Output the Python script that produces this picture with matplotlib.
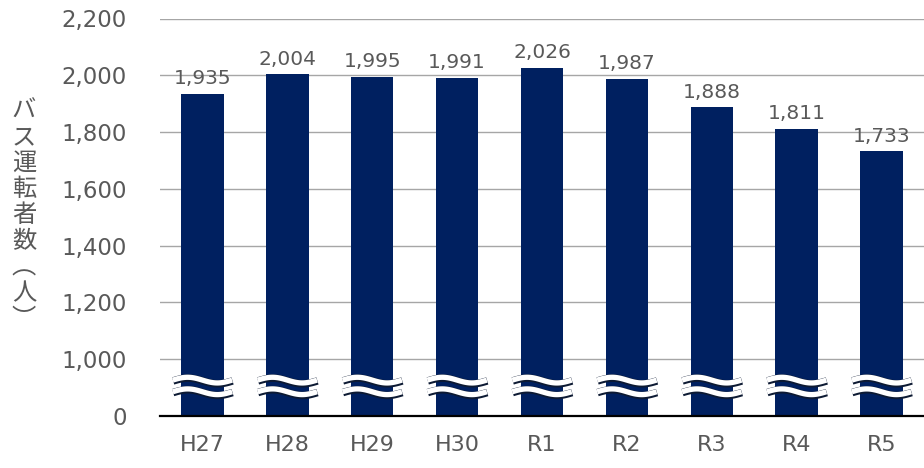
import numpy as np
import matplotlib
matplotlib.use("Agg")
import matplotlib.pyplot as plt
import matplotlib.patheffects as pe

# data
years = ["H27", "H28", "H29", "H30", "R1", "R2", "R3", "R4", "R5"]
drivers = [1935, 2004, 1995, 1991, 2026, 1987, 1888, 1811, 1733]
yticks = [0, 1000, 1200, 1400, 1600, 1800, 2000, 2200]
ylabel_chars = ["バ", "ス", "運", "転", "者", "数", "︵", "人", "︶"]

BAR_COLOR = "#002060"
TEXT_COLOR = "#595959"


# broken axis: 0-1000 squeezed into one step, then 200 per step
def fwd(v):
    v = np.asarray(v, dtype=float)
    return np.where(v <= 1000, v / 1000.0, 1 + (v - 1000) / 200.0)


def inv(t):
    t = np.asarray(t, dtype=float)
    return np.where(t <= 1, t * 1000.0, 1000 + (t - 1) * 200.0)


fig = plt.figure(figsize=(9.24, 4.68), dpi=100)
ax = fig.add_axes([160 / 924, 1 - 416 / 468, 764 / 924, (416 - 18.5) / 468])
ax.set_yscale("function", functions=(fwd, inv))

x = np.arange(len(years))
bars = ax.bar(x, drivers, width=0.5, color=BAR_COLOR, zorder=2)
ax.bar_label(bars, labels=[f"{v:,}" for v in drivers], padding=4,
             fontsize=14.5, color=TEXT_COLOR, zorder=3)

ax.set_xlim(-0.5, len(years) - 0.5)
ax.set_ylim(0, 2200)
ax.set_yticks(yticks)
ax.set_yticklabels([f"{v:,}" for v in yticks])
ax.set_xticks(x)
ax.set_xticklabels(years)
ax.tick_params(axis="y", length=0, pad=24, labelsize=16.5, labelcolor=TEXT_COLOR)
ax.tick_params(axis="x", length=0, pad=14, labelsize=16, labelcolor=TEXT_COLOR)
ax.yaxis.grid(True, color="#a6a6a6", linewidth=1.0, zorder=0)
ax.set_axisbelow(True)
for side in ["left", "right", "top"]:
    ax.spines[side].set_visible(False)
ax.spines["bottom"].set_color("black")
ax.spines["bottom"].set_linewidth(1.6)
ax.spines["bottom"].set_zorder(5)

# wavy break marks on each bar
t = np.linspace(0, 1, 60)
for xi in x:
    for centre in (632, 427):
        ax.plot(xi - 0.35 + 0.7 * t, centre + 50 * np.sin(2 * np.pi * t),
                color="white", linewidth=3.8, solid_capstyle="butt", zorder=4,
                path_effects=[pe.Stroke(linewidth=5.4, foreground="#0d1a33",
                                        offset=(0.3, -0.6)),
                              pe.Normal()])

# vertical y label, one character per line
for i, ch in enumerate(ylabel_chars):
    fig.text(24 / 924, 1 - (111 + i * 26) / 468, ch, ha="center", va="center",
             fontsize=17.5, color=TEXT_COLOR,
             family=["Noto Sans CJK JP", "DejaVu Sans"])

fig.savefig("out.png", dpi=100)
